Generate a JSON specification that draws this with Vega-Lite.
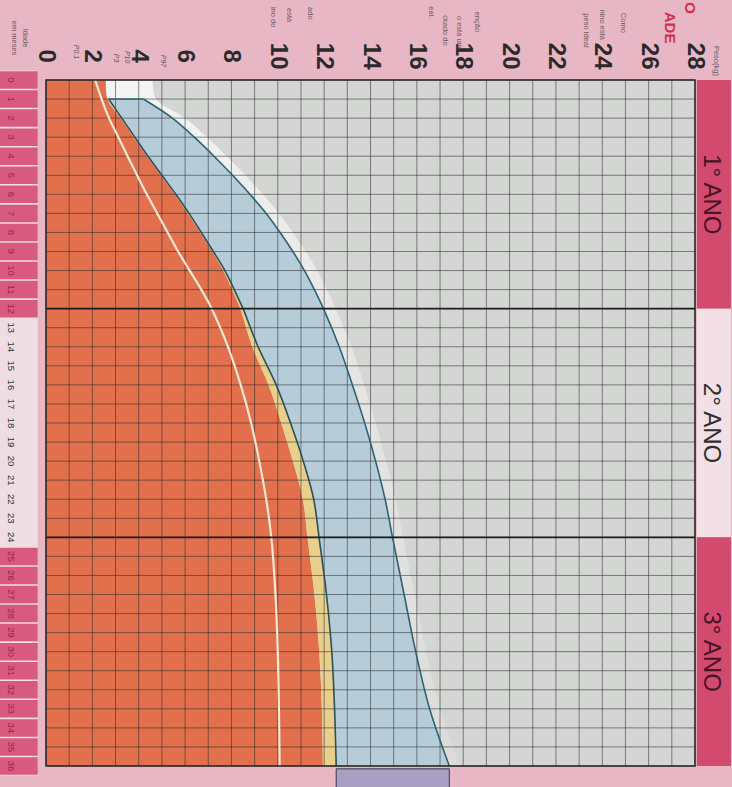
{
  "$schema": "https://vega.github.io/schema/vega-lite/v6.json",
  "width": 649,
  "height": 686,
  "autosize": {"type": "none"},
  "padding": {"left": 46, "top": 80, "right": 37, "bottom": 21},
  "background": "#e8b7c5",
  "view": {"fill": "#d4d6d4", "stroke": null},
  "config": {"font": "Liberation Sans"},
  "datasets": {
    "pc": [
      {"month": 0, "p01": 2.12, "p3": 2.58, "p10": null, "p97": null, "glow": 4.6},
      {"month": 1, "p01": 2.4, "p3": 2.65, "p10": 2.7, "p97": 4.2, "glow": 4.75},
      {"month": 2, "p01": 2.72, "p3": 3.22, "p10": 3.27, "p97": 5.45, "glow": 6.0},
      {"month": 3, "p01": 3.12, "p3": 3.78, "p10": 3.83, "p97": 6.4, "glow": 6.95},
      {"month": 4, "p01": 3.52, "p3": 4.35, "p10": 4.4, "p97": 7.25, "glow": 7.8},
      {"month": 5, "p01": 3.93, "p3": 4.95, "p10": 5.0, "p97": 8.05, "glow": 8.6},
      {"month": 6, "p01": 4.35, "p3": 5.55, "p10": 5.6, "p97": 8.8, "glow": 9.35},
      {"month": 7, "p01": 4.8, "p3": 6.12, "p10": 6.17, "p97": 9.5, "glow": 10.05},
      {"month": 8, "p01": 5.25, "p3": 6.65, "p10": 6.7, "p97": 10.1, "glow": 10.65},
      {"month": 9, "p01": 5.7, "p3": 7.17, "p10": 7.22, "p97": 10.65, "glow": 11.2},
      {"month": 10, "p01": 6.2, "p3": 7.65, "p10": 7.72, "p97": 11.15, "glow": 11.7},
      {"month": 11, "p01": 6.7, "p3": 8.03, "p10": 8.12, "p97": 11.58, "glow": 12.12},
      {"month": 12, "p01": 7.15, "p3": 8.38, "p10": 8.5, "p97": 11.97, "glow": 12.5},
      {"month": 14, "p01": 7.85, "p3": 8.9, "p10": 9.15, "p97": 12.65, "glow": 13.18},
      {"month": 16, "p01": 8.4, "p3": 9.6, "p10": 9.93, "p97": 13.22, "glow": 13.72},
      {"month": 18, "p01": 8.85, "p3": 10.15, "p10": 10.55, "p97": 13.75, "glow": 14.22},
      {"month": 20, "p01": 9.2, "p3": 10.65, "p10": 11.1, "p97": 14.22, "glow": 14.68},
      {"month": 22, "p01": 9.5, "p3": 11.08, "p10": 11.55, "p97": 14.63, "glow": 15.08},
      {"month": 24, "p01": 9.72, "p3": 11.28, "p10": 11.78, "p97": 14.95, "glow": 15.4},
      {"month": 27, "p01": 9.9, "p3": 11.58, "p10": 12.1, "p97": 15.45, "glow": 15.9},
      {"month": 30, "p01": 10.0, "p3": 11.79, "p10": 12.33, "p97": 15.95, "glow": 16.4},
      {"month": 33, "p01": 10.05, "p3": 11.9, "p10": 12.45, "p97": 16.55, "glow": 17.0},
      {"month": 36, "p01": 10.08, "p3": 11.95, "p10": 12.52, "p97": 17.4, "glow": 17.85}
    ],
    "gx": [{"w": 0}, {"w": 1}, {"w": 2}, {"w": 3}, {"w": 4}, {"w": 5}, {"w": 6}, {"w": 7}, {"w": 8}, {"w": 9}, {"w": 10}, {"w": 11}, {"w": 12}, {"w": 13}, {"w": 14}, {"w": 15}, {"w": 16}, {"w": 17}, {"w": 18}, {"w": 19}, {"w": 20}, {"w": 21}, {"w": 22}, {"w": 23}, {"w": 24}, {"w": 25}, {"w": 26}, {"w": 27}, {"w": 28}],
    "wl": [{"w": 0}, {"w": 2}, {"w": 4}, {"w": 6}, {"w": 8}, {"w": 10}, {"w": 12}, {"w": 14}, {"w": 16}, {"w": 18}, {"w": 20}, {"w": 22}, {"w": 24}, {"w": 26}, {"w": 28}],
    "mo": [
      {"m": 0, "yr": 1}, {"m": 1, "yr": 1}, {"m": 2, "yr": 1}, {"m": 3, "yr": 1}, {"m": 4, "yr": 1}, {"m": 5, "yr": 1}, {"m": 6, "yr": 1}, {"m": 7, "yr": 1}, {"m": 8, "yr": 1}, {"m": 9, "yr": 1}, {"m": 10, "yr": 1}, {"m": 11, "yr": 1}, {"m": 12, "yr": 1},
      {"m": 13, "yr": 2}, {"m": 14, "yr": 2}, {"m": 15, "yr": 2}, {"m": 16, "yr": 2}, {"m": 17, "yr": 2}, {"m": 18, "yr": 2}, {"m": 19, "yr": 2}, {"m": 20, "yr": 2}, {"m": 21, "yr": 2}, {"m": 22, "yr": 2}, {"m": 23, "yr": 2}, {"m": 24, "yr": 2},
      {"m": 25, "yr": 3}, {"m": 26, "yr": 3}, {"m": 27, "yr": 3}, {"m": 28, "yr": 3}, {"m": 29, "yr": 3}, {"m": 30, "yr": 3}, {"m": 31, "yr": 3}, {"m": 32, "yr": 3}, {"m": 33, "yr": 3}, {"m": 34, "yr": 3}, {"m": 35, "yr": 3}, {"m": 36, "yr": 3}
    ],
    "yrs": [
      {"label": "1° ANO", "start": 0, "end": 12, "mid": 6, "kind": "pink"},
      {"label": "2° ANO", "start": 12, "end": 24, "mid": 18, "kind": "light"},
      {"label": "3° ANO", "start": 24, "end": 36, "mid": 30, "kind": "pink"}
    ],
    "major": [{"m": 12}, {"m": 24}],
    "notes": [
      {"t": "ado", "w": 11.4, "m": -3.5},
      {"t": "está", "w": 10.5, "m": -3.4},
      {"t": "ino do", "w": 9.8, "m": -3.3},
      {"t": "eal.", "w": 16.6, "m": -3.55},
      {"t": "ckado do", "w": 17.2, "m": -2.6},
      {"t": "o está um", "w": 17.8, "m": -2.5},
      {"t": "enção", "w": 18.6, "m": -3.05},
      {"t": "peso ideal", "w": 23.3, "m": -2.6},
      {"t": "nino está", "w": 24.0, "m": -2.9},
      {"t": "Como", "w": 24.9, "m": -3.0},
      {"t": "Idade", "w": -0.9, "m": -2.2},
      {"t": "em meses", "w": -1.38, "m": -2.2},
      {"t": "Peso(kg)", "w": 28.9, "m": -1.0}
    ],
    "red": [{"t": "O", "w": 27.8, "m": -3.78}, {"t": "ADE", "w": 26.9, "m": -2.75}],
    "plab": [
      {"t": "P97", "w": 5.05, "m": -1.0},
      {"t": "P10", "w": 3.5, "m": -1.2},
      {"t": "P3", "w": 3.02, "m": -1.15},
      {"t": "P0.1", "w": 1.3, "m": -1.47}
    ]
  },
  "layer": [
    {
      "data": {"name": "pc"},
      "mark": {"type": "area", "orient": "horizontal", "interpolate": "catmull-rom",
        "color": {"gradient": "linear", "x1": 0, "y1": 0, "x2": 0, "y2": 1,
          "stops": [{"offset": 0, "color": "#f4f4f2"}, {"offset": 0.4, "color": "#e5e6e4"}, {"offset": 1, "color": "#dcdddb"}]}},
      "encoding": {
        "y": {"field": "month", "type": "quantitative",
          "scale": {"domain": [0, 36], "reverse": true, "nice": false, "zero": false}, "axis": null},
        "x": {"field": "p3", "type": "quantitative",
          "scale": {"domain": [0, 28], "nice": false, "zero": false}, "axis": null},
        "x2": {"field": "glow"}
      }
    },
    {
      "data": {"name": "pc"},
      "mark": {"type": "area", "orient": "horizontal", "interpolate": "catmull-rom", "color": "#e2704c"},
      "encoding": {
        "y": {"field": "month", "type": "quantitative", "axis": null},
        "x": {"field": "p3", "type": "quantitative", "axis": null},
        "x2": {"datum": 0}
      }
    },
    {
      "data": {"name": "pc"},
      "transform": [{"filter": "isValid(datum.p10)"}],
      "mark": {"type": "area", "orient": "horizontal", "interpolate": "catmull-rom", "color": "#e8cf8c"},
      "encoding": {
        "y": {"field": "month", "type": "quantitative", "axis": null},
        "x": {"field": "p3", "type": "quantitative", "axis": null},
        "x2": {"field": "p10"}
      }
    },
    {
      "data": {"name": "pc"},
      "transform": [{"filter": "isValid(datum.p10)"}],
      "mark": {"type": "area", "orient": "horizontal", "interpolate": "catmull-rom", "color": "#b6cdd9"},
      "encoding": {
        "y": {"field": "month", "type": "quantitative", "axis": null},
        "x": {"field": "p10", "type": "quantitative", "axis": null},
        "x2": {"field": "p97"}
      }
    },
    {
      "data": {"name": "gx"},
      "mark": {"type": "rule", "color": "#2a2a2a", "opacity": 0.55, "strokeWidth": 1},
      "encoding": {
        "x": {"field": "w", "type": "quantitative", "axis": null},
        "y": {"datum": 0, "type": "quantitative", "axis": null},
        "y2": {"datum": 36}
      }
    },
    {
      "data": {"name": "mo"},
      "mark": {"type": "rule", "color": "#2a2a2a", "opacity": 0.55, "strokeWidth": 1},
      "encoding": {
        "y": {"field": "m", "type": "quantitative", "axis": null},
        "x": {"datum": 0, "type": "quantitative", "axis": null},
        "x2": {"datum": 28}
      }
    },
    {
      "data": {"name": "pc"},
      "mark": {"type": "line", "interpolate": "catmull-rom", "color": "#f6e7d4", "strokeWidth": 2.2},
      "encoding": {
        "y": {"field": "month", "type": "quantitative", "axis": null},
        "x": {"field": "p01", "type": "quantitative", "axis": null},
        "order": {"field": "month", "type": "quantitative"}
      }
    },
    {
      "data": {"name": "pc"},
      "transform": [{"filter": "isValid(datum.p10)"}],
      "mark": {"type": "line", "interpolate": "catmull-rom", "color": "#2b5157", "strokeWidth": 1.6},
      "encoding": {
        "y": {"field": "month", "type": "quantitative", "axis": null},
        "x": {"field": "p10", "type": "quantitative", "axis": null},
        "order": {"field": "month", "type": "quantitative"}
      }
    },
    {
      "data": {"name": "pc"},
      "transform": [{"filter": "isValid(datum.p97)"}],
      "mark": {"type": "line", "interpolate": "catmull-rom", "color": "#2f6273", "strokeWidth": 1.6},
      "encoding": {
        "y": {"field": "month", "type": "quantitative", "axis": null},
        "x": {"field": "p97", "type": "quantitative", "axis": null},
        "order": {"field": "month", "type": "quantitative"}
      }
    },
    {
      "data": {"name": "pc"},
      "transform": [{"filter": "datum.month == 1"}],
      "mark": {"type": "rule", "color": "#2f6273", "strokeWidth": 1.6},
      "encoding": {
        "y": {"field": "month", "type": "quantitative", "axis": null},
        "x": {"field": "p10", "type": "quantitative", "axis": null},
        "x2": {"field": "p97"}
      }
    },
    {
      "data": {"name": "major"},
      "mark": {"type": "rule", "color": "#1e1e1e", "strokeWidth": 1.8},
      "encoding": {
        "y": {"field": "m", "type": "quantitative", "axis": null},
        "x": {"datum": 0, "type": "quantitative", "axis": null},
        "x2": {"datum": 28}
      }
    },
    {
      "data": {"values": [{}]},
      "mark": {"type": "rect", "fill": null, "fillOpacity": 0, "stroke": "#2a2a2a", "strokeWidth": 1.5},
      "encoding": {
        "x": {"datum": 0, "type": "quantitative", "axis": null},
        "x2": {"datum": 28},
        "y": {"datum": 0, "type": "quantitative", "axis": null},
        "y2": {"datum": 36}
      }
    },
    {
      "data": {"values": [{}]},
      "mark": {"type": "rect", "color": "#eedde3"},
      "encoding": {
        "x": {"datum": -2.0, "type": "quantitative", "axis": null},
        "x2": {"datum": -0.35},
        "y": {"datum": -0.5, "type": "quantitative", "axis": null},
        "y2": {"datum": 36.5}
      }
    },
    {
      "data": {"name": "mo"},
      "transform": [{"filter": "datum.yr != 2"}],
      "mark": {"type": "tick", "orient": "horizontal", "color": "#d85a7f", "size": 38, "thickness": 17.5, "opacity": 1},
      "encoding": {
        "x": {"datum": -1.175, "type": "quantitative", "axis": null},
        "y": {"field": "m", "type": "quantitative", "axis": null}
      }
    },
    {
      "data": {"name": "mo"},
      "mark": {"type": "text", "angle": 90, "fontSize": 9.5, "align": "center", "baseline": "middle"},
      "encoding": {
        "x": {"datum": -1.5, "type": "quantitative", "axis": null},
        "y": {"field": "m", "type": "quantitative", "axis": null},
        "text": {"field": "m", "type": "quantitative"},
        "color": {"condition": {"test": "datum.yr == 2", "value": "#333333"}, "value": "#9c2446"}
      }
    },
    {
      "data": {"name": "yrs"},
      "mark": {"type": "rect"},
      "encoding": {
        "x": {"datum": 28.08, "type": "quantitative", "axis": null},
        "x2": {"datum": 29.55},
        "y": {"field": "start", "type": "quantitative", "axis": null},
        "y2": {"field": "end"},
        "color": {"field": "kind", "type": "nominal", "scale": {"domain": ["pink", "light"], "range": ["#d24b6e", "#f2e0e6"]}, "legend": null}
      }
    },
    {
      "data": {"name": "yrs"},
      "mark": {"type": "text", "angle": 90, "fontSize": 24, "align": "center", "baseline": "middle"},
      "encoding": {
        "x": {"datum": 28.68, "type": "quantitative", "axis": null},
        "y": {"field": "mid", "type": "quantitative", "axis": null},
        "text": {"field": "label"},
        "color": {"condition": {"test": "datum.kind == 'light'", "value": "#2e2e2e"}, "value": "#4a1226"}
      }
    },
    {
      "data": {"name": "wl"},
      "mark": {"type": "text", "angle": 90, "fontSize": 24, "fontWeight": "bold", "align": "center", "baseline": "middle", "color": "#2a2a2a"},
      "encoding": {
        "x": {"field": "w", "type": "quantitative", "axis": null},
        "y": {"datum": -1.25, "type": "quantitative", "axis": null},
        "text": {"field": "w", "type": "quantitative"}
      }
    },
    {
      "data": {"name": "notes"},
      "mark": {"type": "text", "angle": 90, "fontSize": 7.5, "align": "center", "baseline": "middle", "color": "#6b5a62"},
      "encoding": {
        "x": {"field": "w", "type": "quantitative", "axis": null},
        "y": {"field": "m", "type": "quantitative", "axis": null},
        "text": {"field": "t"}
      }
    },
    {
      "data": {"name": "red"},
      "mark": {"type": "text", "angle": 90, "fontSize": 15, "fontWeight": "bold", "align": "center", "baseline": "middle", "color": "#d3304a"},
      "encoding": {
        "x": {"field": "w", "type": "quantitative", "axis": null},
        "y": {"field": "m", "type": "quantitative", "axis": null},
        "text": {"field": "t"}
      }
    },
    {
      "data": {"name": "plab"},
      "mark": {"type": "text", "angle": 90, "fontSize": 7, "fontStyle": "italic", "align": "center", "baseline": "middle", "color": "#5e5458"},
      "encoding": {
        "x": {"field": "w", "type": "quantitative", "axis": null},
        "y": {"field": "m", "type": "quantitative", "axis": null},
        "text": {"field": "t"}
      }
    },
    {
      "data": {"name": "pc"},
      "transform": [{"filter": "datum.month == 36"}],
      "mark": {"type": "rect", "color": "#a99fc3", "stroke": "#3a3550", "strokeWidth": 1},
      "encoding": {
        "x": {"field": "p10", "type": "quantitative", "axis": null},
        "x2": {"field": "p97"},
        "y": {"datum": 36.15, "type": "quantitative", "axis": null},
        "y2": {"datum": 37.6}
      }
    }
  ]
}
